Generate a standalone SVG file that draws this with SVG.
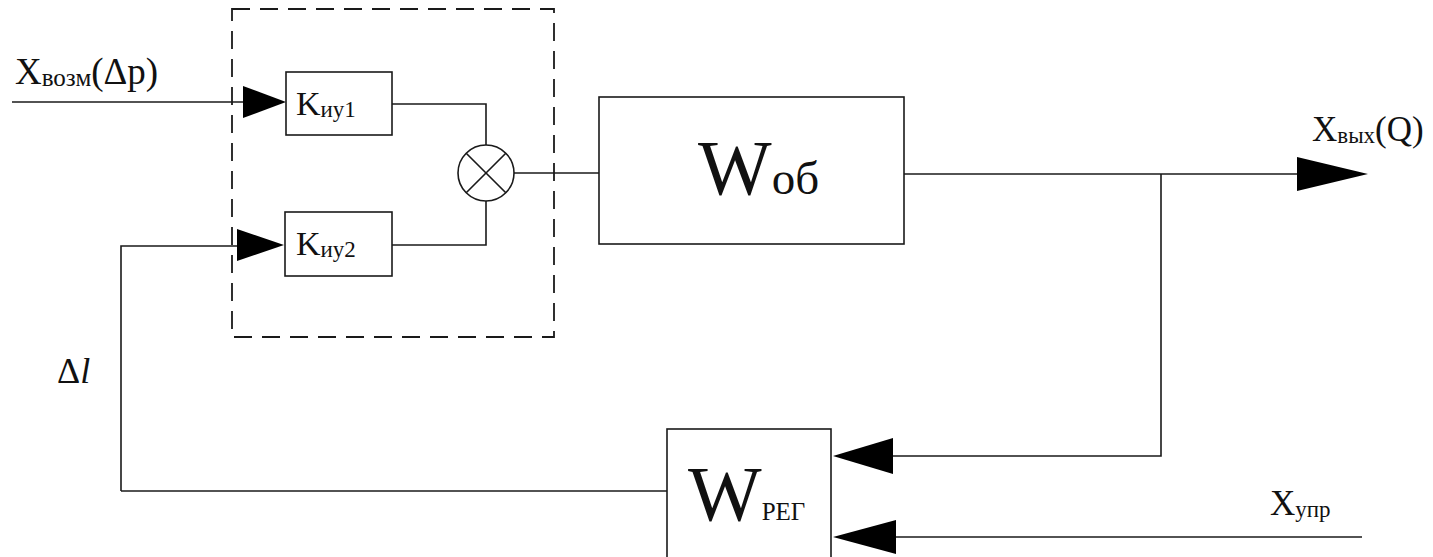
<svg xmlns="http://www.w3.org/2000/svg" width="1433" height="557" viewBox="0 0 1433 557">
<style>
.ln{fill:none;stroke:#1a1a1a;stroke-width:1.6}
.box{fill:#fff;stroke:#1a1a1a;stroke-width:1.6}
.dash{fill:none;stroke:#1a1a1a;stroke-width:1.8;stroke-dasharray:18 10}
.ah{fill:#000;stroke:none}
text{font-family:"Liberation Serif","DejaVu Serif",serif;fill:#111}
</style>
<rect width="1433" height="557" fill="#fff"/>
<g id="block">
<rect class="dash" x="232" y="9" width="322" height="328"/>
</g>
<g id="connectors">
<path class="ln" d="M12 102 H250"/>
<path class="ln" d="M121 491 V246 H245"/>
<path class="ln" d="M392 104 H486 V145"/>
<path class="ln" d="M392 245 H486 V201"/>
<path class="ln" d="M514 173 H599"/>
<path class="ln" d="M904 174 H1305"/>
<path class="ln" d="M1161 174 V456 H880"/>
<path class="ln" d="M1362 537 H880"/>
<path class="ln" d="M121 491 H667"/>
<polygon class="ah" points="243,86 286,102 243,118"/>
<polygon class="ah" points="237,229 284,245 237,261"/>
<polygon class="ah" points="1297,157 1368,174 1297,191"/>
<polygon class="ah" points="893,438 833,456 893,474"/>
<polygon class="ah" points="896,520 833,537 896,554"/>
</g>
<g id="kiu1">
<rect class="box" x="286" y="72" width="106" height="63"/>
<text x="296" y="115" font-size="34">K<tspan font-size="23" dy="2">иу1</tspan></text>
</g>
<g id="kiu2">
<rect class="box" x="285" y="212" width="107" height="64"/>
<text x="296" y="255" font-size="34">K<tspan font-size="23" dy="2">иу2</tspan></text>
</g>
<g id="summer">
<circle class="box" cx="486" cy="173" r="28"/>
<path class="ln" d="M466.2 153.2 L505.8 192.8 M505.8 153.2 L466.2 192.8"/>
</g>
<g id="wob">
<rect class="box" x="599" y="97" width="305" height="147"/>
<text x="698" y="194" font-size="78">W<tspan font-size="47">об</tspan></text>
</g>
<g id="wreg">
<rect class="box" x="667" y="429" width="164" height="140"/>
<text x="688" y="520" font-size="78">W<tspan font-size="25">РЕГ</tspan></text>
</g>
<g id="labels">
<text x="15" y="84" font-size="37">X<tspan font-size="25" dy="2">возм</tspan><tspan dy="-2">(Δp)</tspan></text>
<text x="1312" y="141" font-size="35">X<tspan font-size="23" dy="2">вых</tspan><tspan dy="-2">(Q)</tspan></text>
<text x="1270" y="515" font-size="35">X<tspan font-size="23" dy="2">упр</tspan></text>
<text x="57" y="383" font-size="36">Δ<tspan font-style="italic">l</tspan></text>
</g>
</svg>
